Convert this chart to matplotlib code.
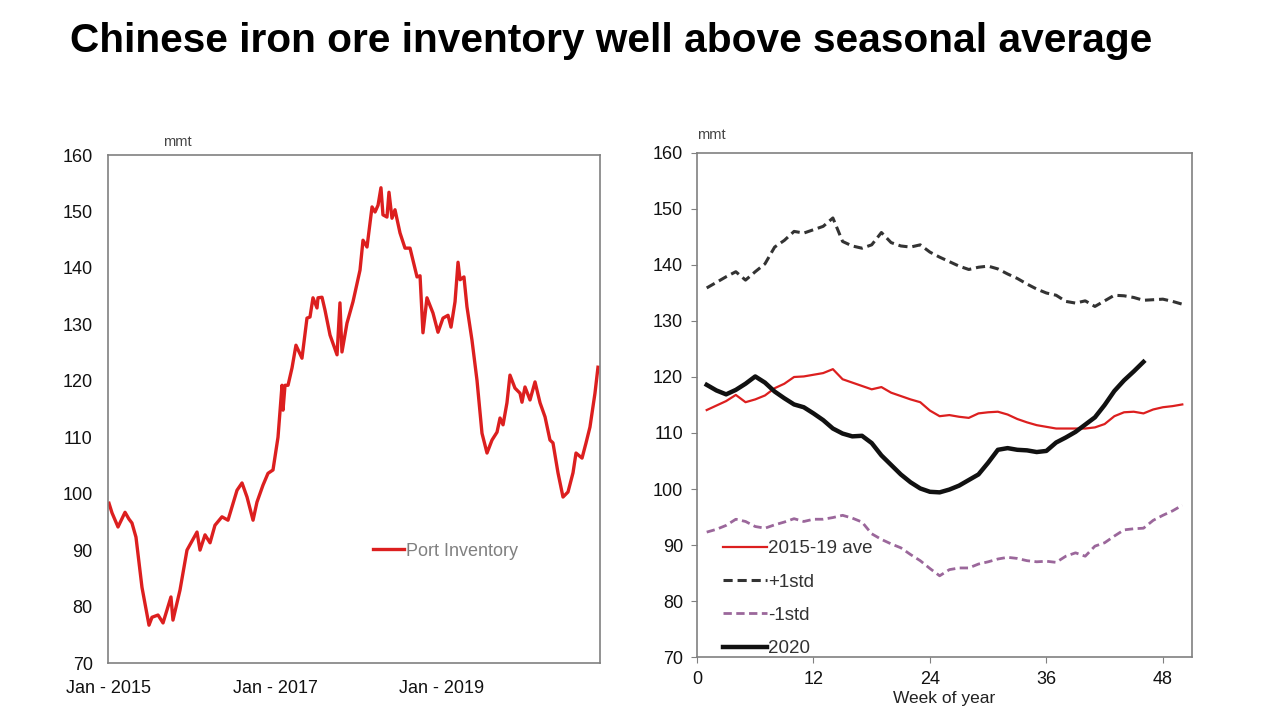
import matplotlib
matplotlib.use("Agg")
import matplotlib.pyplot as plt

# ---------------- data ----------------
# Left panel: Chinese port iron ore inventory (mmt), x in decimal years
port_years = [2015.012, 2015.048, 2015.120, 2015.204, 2015.251, 2015.287, 2015.335, 2015.407,
              2015.491, 2015.527, 2015.599, 2015.659, 2015.754, 2015.778, 2015.862, 2015.946,
              2016.066, 2016.102, 2016.162, 2016.222, 2016.281, 2016.365, 2016.437, 2016.545,
              2016.605, 2016.665, 2016.737, 2016.784, 2016.856, 2016.916, 2016.976, 2017.036,
              2017.084, 2017.096, 2017.120, 2017.156, 2017.204, 2017.251, 2017.323, 2017.383,
              2017.419, 2017.455, 2017.503, 2017.515, 2017.563, 2017.599, 2017.659, 2017.743,
              2017.778, 2017.802, 2017.862, 2017.934, 2018.018, 2018.054, 2018.102, 2018.162,
              2018.198, 2018.234, 2018.269, 2018.293, 2018.341, 2018.365, 2018.401, 2018.437,
              2018.497, 2018.557, 2018.617, 2018.701, 2018.737, 2018.772, 2018.820, 2018.892,
              2018.952, 2019.012, 2019.072, 2019.108, 2019.156, 2019.192, 2019.216, 2019.263,
              2019.299, 2019.359, 2019.419, 2019.479, 2019.539, 2019.599, 2019.659, 2019.695,
              2019.731, 2019.778, 2019.814, 2019.874, 2019.934, 2019.958, 2019.994, 2020.054,
              2020.114, 2020.174, 2020.234, 2020.293, 2020.329, 2020.389, 2020.449, 2020.509,
              2020.569, 2020.605, 2020.677, 2020.725, 2020.772, 2020.832, 2020.868]
port_values = [98.3, 96.6, 94.1, 96.7, 95.5, 94.8, 92.3, 83.4,
               76.7, 78.1, 78.5, 77.1, 81.7, 77.6, 82.9, 90.0,
               93.2, 90.0, 92.7, 91.3, 94.4, 95.9, 95.3, 100.6,
               101.9, 99.4, 95.3, 98.5, 101.5, 103.6, 104.2, 110.0,
               119.2, 114.8, 119.2, 119.2, 122.3, 126.3, 124.0, 131.1,
               131.3, 134.7, 132.9, 134.7, 134.8, 132.5, 128.1, 124.6,
               133.8, 125.1, 130.2, 134.0, 139.6, 144.9, 143.7, 150.8,
               149.9, 151.1, 154.2, 149.4, 149.0, 153.4, 148.8, 150.3,
               146.2, 143.5, 143.5, 138.4, 138.6, 128.5, 134.7, 132.0,
               128.6, 131.1, 131.6, 129.5, 134.0, 141.0, 137.9, 138.4,
               133.1, 127.2, 120.1, 110.7, 107.2, 109.5, 110.9, 113.4,
               112.2, 116.1, 121.0, 118.7, 117.8, 116.2, 118.9, 116.6,
               119.8, 116.1, 113.6, 109.5, 109.0, 103.7, 99.4, 100.3,
               103.7, 107.2, 106.3, 109.0, 111.8, 117.8, 122.4]
left_tick_years = [2015, 2017, 2019]
left_tick_labels = ["Jan - 2015", "Jan - 2017", "Jan - 2019"]

# Right panel: seasonal comparison by week of year (mmt)
weeks = list(range(1, 51))
ave_2015_19 = [114.1, 114.9, 115.7, 116.8, 115.5, 116.0, 116.7, 118.0, 118.8, 120.0,
               120.1, 120.4, 120.7, 121.4, 119.6, 119.0, 118.4, 117.8, 118.2, 117.2,
               116.6, 116.0, 115.5, 114.0, 113.0, 113.2, 112.9, 112.7, 113.5, 113.7,
               113.8, 113.3, 112.5, 111.9, 111.4, 111.1, 110.8, 110.8, 110.8, 110.8,
               111.0, 111.6, 113.0, 113.7, 113.8, 113.5, 114.2, 114.6, 114.8, 115.1]
plus_1std = [135.9, 136.9, 137.9, 138.8, 137.3, 138.8, 140.2, 143.2, 144.4, 146.0,
             145.7, 146.3, 146.9, 148.4, 144.2, 143.4, 143.0, 143.6, 145.8, 144.0,
             143.4, 143.2, 143.6, 142.3, 141.4, 140.6, 139.8, 139.2, 139.6, 139.8,
             139.3, 138.4, 137.6, 136.6, 135.7, 135.0, 134.6, 133.5, 133.2, 133.6,
             132.6, 133.6, 134.6, 134.5, 134.2, 133.7, 133.8, 133.9, 133.5, 133.0]
minus_1std = [92.3, 92.8, 93.5, 94.6, 94.2, 93.3, 93.0, 93.6, 94.1, 94.7,
              94.2, 94.6, 94.6, 94.9, 95.3, 94.8, 94.1, 92.0, 91.0, 90.2,
              89.5, 88.3, 87.2, 85.8, 84.5, 85.6, 85.9, 85.9, 86.6, 87.0,
              87.5, 87.8, 87.6, 87.2, 87.0, 87.1, 86.9, 88.0, 88.6, 88.0,
              89.8, 90.4, 91.6, 92.7, 92.9, 93.0, 94.4, 95.3, 96.1, 97.1]
weeks_2020 = list(range(1, 47))
values_2020 = [118.6, 117.6, 116.9, 117.7, 118.8, 120.1, 119.0, 117.4, 116.2, 115.1,
               114.6, 113.5, 112.3, 110.8, 109.9, 109.4, 109.5, 108.2, 106.0, 104.3,
               102.6, 101.2, 100.1, 99.5, 99.4, 99.9, 100.6, 101.6, 102.6, 104.7,
               107.0, 107.3, 107.0, 106.9, 106.6, 106.8, 108.3, 109.2, 110.2, 111.5,
               112.8, 115.0, 117.5, 119.4, 121.0, 122.7]
right_xticks = [0, 12, 24, 36, 48]
yticks = [70, 80, 90, 100, 110, 120, 130, 140, 150, 160]

# ---------------- style ----------------
plt.rcParams['font.family'] = ['Liberation Sans', 'DejaVu Sans']
RED = '#dc1f1f'
SPINE = '#808080'

fig = plt.figure(figsize=(12.79, 7.19), dpi=100)
fig.patch.set_facecolor('white')

# ---------------- left panel ----------------
axl = fig.add_axes([108/1279, 1-663/719, 492/1279, 508/719])
axl.plot(port_years, port_values, color=RED, lw=2.4, label='Port Inventory',
         solid_joinstyle='round')
axl.set_xlim(2015, 2015 + 492/83.5)
axl.set_ylim(70, 160)
axl.set_yticks(yticks)
axl.set_xticks(left_tick_years)
axl.set_xticklabels(left_tick_labels)
axl.tick_params(axis='both', length=0, labelsize=13, colors='#111111')
axl.tick_params(axis='y', pad=11)
axl.tick_params(axis='x', pad=12)
for s in axl.spines.values():
    s.set_color(SPINE)
    s.set_linewidth(1.2)
axl.text(0.112, 1.012, 'mmt', transform=axl.transAxes, fontsize=10.5,
         color='#444444', ha='left', va='bottom')
legl = axl.legend(loc='center left', bbox_to_anchor=(0.52, 0.22), frameon=False,
                  fontsize=13, handlelength=1.75, handletextpad=0.1, borderpad=0)
for t in legl.get_texts():
    t.set_color('#808080')

# ---------------- right panel ----------------
axr = fig.add_axes([697/1279, 1-657/719, 495/1279, 504/719])
axr.plot(weeks, ave_2015_19, color=RED, lw=1.6, label='2015-19 ave')
axr.plot(weeks, plus_1std, color='#333333', lw=2.2, linestyle=(0, (3, 1.6)),
         label='+1std')
axr.plot(weeks, minus_1std, color='#9b679b', lw=2.0, linestyle=(0, (3, 1.6)),
         label='-1std')
axr.plot(weeks_2020, values_2020, color='#111111', lw=3.2, label='2020',
         solid_joinstyle='round')
axr.set_xlim(0, 51)
axr.set_ylim(70, 160)
axr.set_yticks(yticks)
axr.set_xticks(right_xticks)
axr.tick_params(axis='both', direction='out', length=4, color=SPINE,
                labelsize=13, labelcolor='#111111')
axr.tick_params(axis='y', pad=6)
axr.tick_params(axis='x', pad=6)
for s in axr.spines.values():
    s.set_color(SPINE)
    s.set_linewidth(1.2)
axr.set_xlabel('Week of year', fontsize=12.5, color='#222222', labelpad=2)
axr.text(0.0, 1.022, 'mmt', transform=axr.transAxes, fontsize=10.5,
         color='#444444', ha='left', va='bottom')
legr = axr.legend(loc='lower left', bbox_to_anchor=(0.027, -0.027), frameon=False,
                  fontsize=13.5, handlelength=2.3, handletextpad=0.1,
                  labelspacing=0.87, borderpad=0.2)
for t in legr.get_texts():
    t.set_color('#333333')

# ---------------- title ----------------
title = fig.text(70/1279, 1-52/719, 'Chinese iron ore inventory well above seasonal average',
                 fontsize=34, fontweight='bold', ha='left', va='baseline',
                 family=['Liberation Sans', 'DejaVu Sans'],
                 color='#000000')
fig.canvas.draw()
w = title.get_window_extent().width
title.set_fontsize(34 * 1083 / w)

fig.savefig('out.png', dpi=100)
